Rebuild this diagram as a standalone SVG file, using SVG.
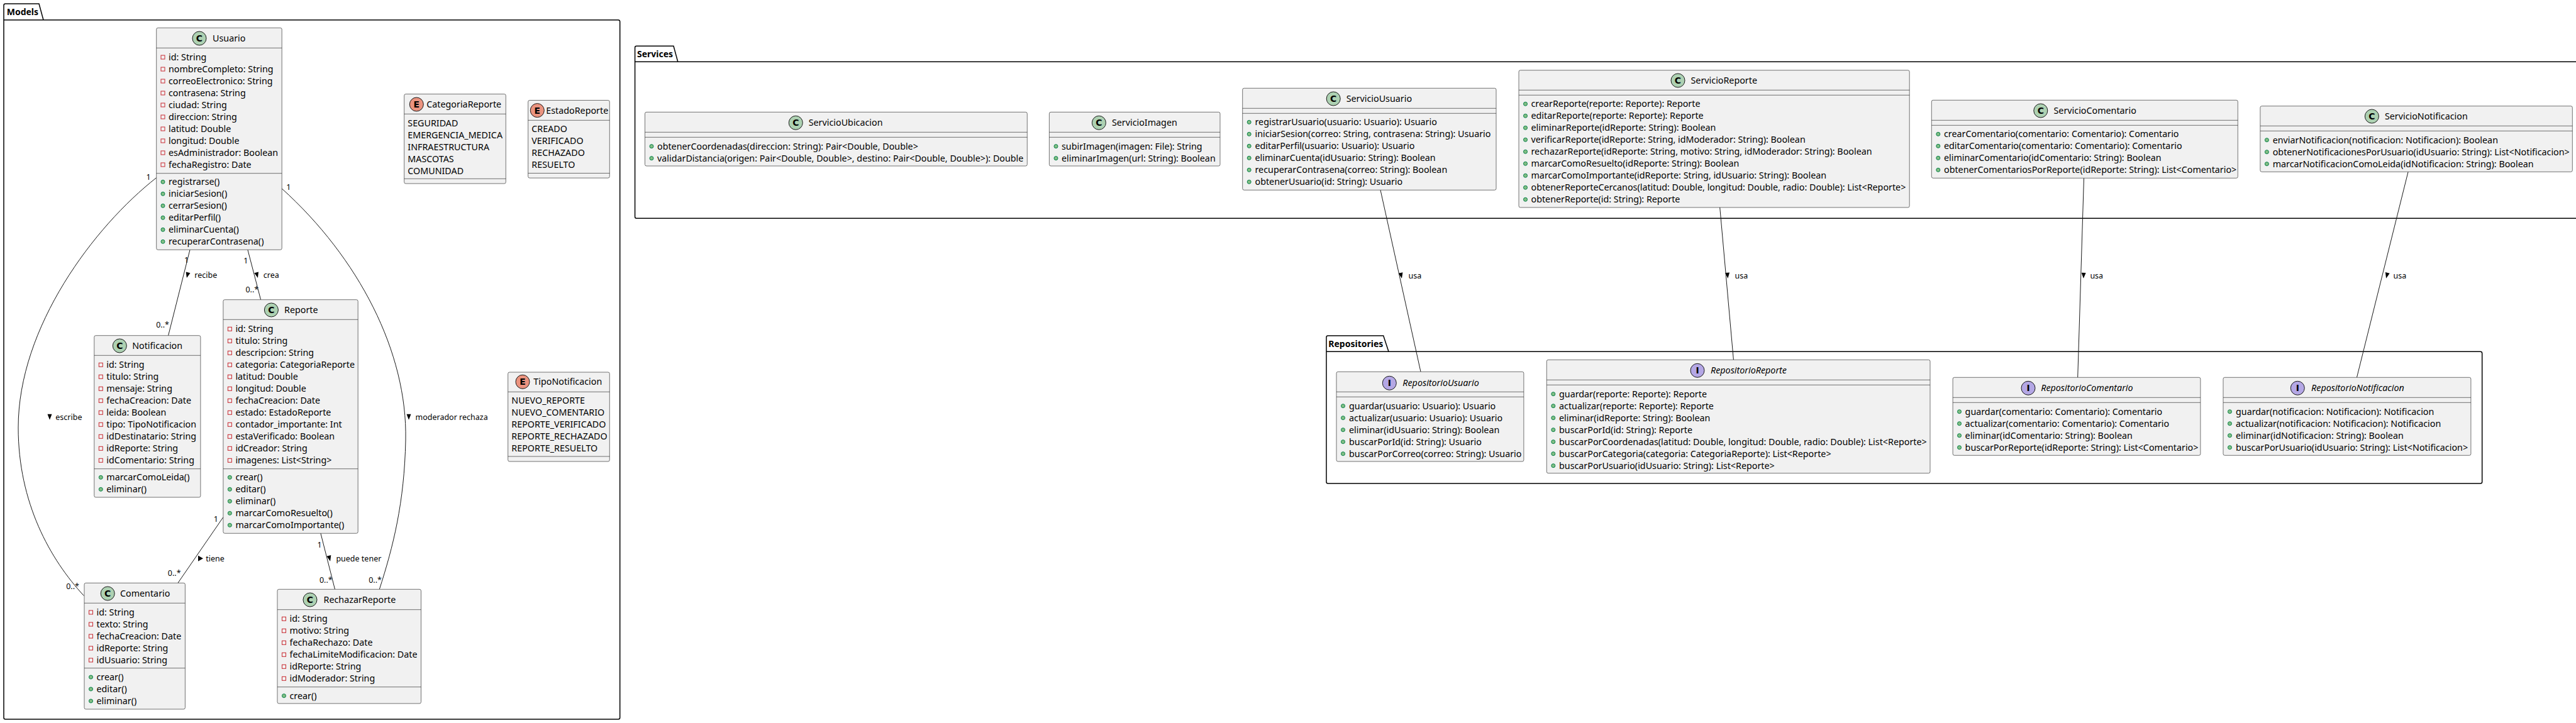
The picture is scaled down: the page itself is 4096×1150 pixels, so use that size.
<svg xmlns="http://www.w3.org/2000/svg" xmlns:xlink="http://www.w3.org/1999/xlink" width="4096" height="1150" viewBox="0 0 4096 1150">
<style>
.bg{fill:#FFFFFF}
.pkg{fill:none;stroke:#000000;stroke-width:1.5}
.pkgt{font-family:"Noto Sans","DejaVu Sans",sans-serif;font-size:14px;font-weight:bold;fill:#000}
.box{fill:#F1F1F1;stroke:#181818;stroke-width:0.6}
.sep{stroke:#181818;stroke-width:0.6;fill:none}
.t{font-family:"Noto Sans","DejaVu Sans",sans-serif;font-size:14.3px;fill:#000}
.ti{font-family:"Noto Sans","DejaVu Sans",sans-serif;font-size:14.3px;font-style:italic;fill:#000}
.lbl{font-family:"Noto Sans","DejaVu Sans",sans-serif;font-size:12.5px;fill:#000}
.mul{font-family:"Noto Sans","DejaVu Sans",sans-serif;font-size:12.5px;fill:#000;text-anchor:middle}
.cC{fill:#ADD1B2;stroke:#181818;stroke-width:1}
.cE{fill:#EB937F;stroke:#181818;stroke-width:1}
.cI{fill:#B4A7E5;stroke:#181818;stroke-width:1}
.let{font-family:"DejaVu Sans","Liberation Sans",sans-serif;font-size:14px;font-weight:bold;fill:#000;text-anchor:middle}
.pv{fill:none;stroke:#C82930;stroke-width:1}
.pb{fill:#84BE84;stroke:#038048;stroke-width:1}
.edge{fill:none;stroke:#181818;stroke-width:1}
.arr{fill:#000}
</style>
<defs>
<rect id="pv" class="pv" x="-3" y="-3" width="6" height="6"/>
<circle id="pb" class="pb" r="3"/>
<polygon id="ad" class="arr" points="-3.5,-4.5 3.5,-4.5 0,4.5"/>
</defs>
<rect class="bg" x="0" y="0" width="4096" height="1150"/>

<!-- Packages -->
<g id="pkg-models">
<path class="pkg" d="M8.5,6 H62 L69,31.7 H983 Q985.7,31.7 985.7,34.5 V1141.5 Q985.7,1144 983,1144 H8.5 Q6,1144 6,1141.5 V8.5 Q6,6 8.5,6 Z M6,31.7 H69"/>
<text class="pkgt" x="10.7" y="24">Models</text>
</g>
<g id="pkg-services">
<path class="pkg" d="M1009.6,98.3 V75.8 Q1009.6,73.3 1012,73.3 H1071 L1077.8,98.3 H4110"/>
<path class="pkg" d="M4110,347.3 H1012 Q1009.6,347.3 1009.6,344.8 V98.3 H1077.8"/>
<text class="pkgt" x="1013" y="90.5">Services</text>
</g>
<g id="pkg-repositories">
<path class="pkg" d="M2111.5,534 H2199.7 L2208,559.3 H3944 Q3946.7,559.3 3946.7,562 V766.5 Q3946.7,769 3944,769 H2111.5 Q2109,769 2109,766.5 V536.5 Q2109,534 2111.5,534 Z M2109,559.3 H2208"/>
<text class="pkgt" x="2112.3" y="551.5">Repositories</text>
</g>

<!-- Connectors -->
<g id="connectors">
<path class="edge" d="M248.7,282.7 C150,360 29,520 29,680 C29,800 80,890 133.3,947.5"/>
<path class="edge" d="M302,397.3 L267.6,533.7"/>
<path class="edge" d="M393.9,397.3 L414.6,476.7"/>
<path class="edge" d="M448.2,300 C570,410 648,560 645,700 C643,800 625,870 603.3,937.3"/>
<path class="edge" d="M354.9,822.7 L282.9,927.3"/>
<path class="edge" d="M509.9,848.3 L532.5,937.3"/>
<path class="edge" d="M2195,302.3 L2259,591.3"/>
<path class="edge" d="M2734.7,330 L2756.4,572.3"/>
<path class="edge" d="M3313.5,283.3 L3303.7,600.3"/>
<path class="edge" d="M3829.1,273.3 L3747.5,600.3"/>

<text class="mul" x="236.2" y="285.5">1</text>
<text class="mul" x="115.5" y="936.7">0..*</text>
<use href="#ad" x="79" y="663.2"/>
<text class="lbl" x="88.3" y="667.7">escribe</text>

<text class="mul" x="296.7" y="417.8">1</text>
<text class="mul" x="258.5" y="521.2">0..*</text>
<use href="#ad" transform="translate(298,437.7) rotate(14)"/>
<text class="lbl" x="309.3" y="442.2">recibe</text>

<text class="mul" x="390.8" y="418.8">1</text>
<text class="mul" x="400.8" y="464.8">0..*</text>
<use href="#ad" transform="translate(408.8,437.7) rotate(-14.6)"/>
<text class="lbl" x="418.8" y="442.2">crea</text>

<text class="mul" x="458.9" y="302.2">1</text>
<text class="mul" x="596.5" y="926.5">0..*</text>
<use href="#ad" x="650" y="663.3"/>
<text class="lbl" x="660.5" y="667.8">moderador rechaza</text>

<text class="mul" x="343.4" y="829.5">1</text>
<text class="mul" x="277.2" y="915.5">0..*</text>
<polygon class="arr" points="315,883.8 323,888.3 315,892.8"/>
<text class="lbl" x="327.3" y="892.8">tiene</text>

<text class="mul" x="508" y="871.2">1</text>
<text class="mul" x="518.3" y="926.5">0..*</text>
<use href="#ad" transform="translate(524,888.3) rotate(-14)"/>
<text class="lbl" x="534.4" y="892.8">puede tener</text>

<use href="#ad" transform="translate(2228,438.3) rotate(-12.5)"/>
<text class="lbl" x="2239.5" y="442.8">usa</text>
<use href="#ad" transform="translate(2747,438.3) rotate(-5)"/>
<text class="lbl" x="2758.5" y="442.8">usa</text>
<use href="#ad" transform="translate(3313,438.3) rotate(2)"/>
<text class="lbl" x="3323.4" y="442.8">usa</text>
<use href="#ad" transform="translate(3795.2,438.3) rotate(14)"/>
<text class="lbl" x="3805.5" y="442.8">usa</text>
</g>

<!-- Usuario -->
<g id="Usuario">
<rect class="box" x="248.7" y="44.3" width="199.5" height="353" rx="2.5"/>
<circle class="cC" cx="317" cy="61" r="11"/><text class="let" x="317" y="66">C</text>
<text class="t" x="338" y="66">Usuario</text>
<line class="sep" x1="248.7" y1="76.3" x2="448.2" y2="76.3"/>
<line class="sep" x1="248.7" y1="275.7" x2="448.2" y2="275.7"/>
<use href="#pv" x="259" y="91"/><text class="t" x="268" y="96">id: String</text>
<use href="#pv" x="259" y="110"/><text class="t" x="268" y="115">nombreCompleto: String</text>
<use href="#pv" x="259" y="129"/><text class="t" x="268" y="134">correoElectronico: String</text>
<use href="#pv" x="259" y="148"/><text class="t" x="268" y="153">contrasena: String</text>
<use href="#pv" x="259" y="167"/><text class="t" x="268" y="172">ciudad: String</text>
<use href="#pv" x="259" y="186"/><text class="t" x="268" y="191">direccion: String</text>
<use href="#pv" x="259" y="205"/><text class="t" x="268" y="210">latitud: Double</text>
<use href="#pv" x="259" y="224"/><text class="t" x="268" y="229">longitud: Double</text>
<use href="#pv" x="259" y="243"/><text class="t" x="268" y="248">esAdministrador: Boolean</text>
<use href="#pv" x="259" y="262"/><text class="t" x="268" y="267">fechaRegistro: Date</text>
<use href="#pb" x="259" y="289.3"/><text class="t" x="268" y="294.3">registrarse()</text>
<use href="#pb" x="259" y="308.3"/><text class="t" x="268" y="313.3">iniciarSesion()</text>
<use href="#pb" x="259" y="327.3"/><text class="t" x="268" y="332.3">cerrarSesion()</text>
<use href="#pb" x="259" y="346.3"/><text class="t" x="268" y="351.3">editarPerfil()</text>
<use href="#pb" x="259" y="365.3"/><text class="t" x="268" y="370.3">eliminarCuenta()</text>
<use href="#pb" x="259" y="384.3"/><text class="t" x="268" y="389.3">recuperarContrasena()</text>
</g>

<!-- Notificacion -->
<g id="Notificacion">
<rect class="box" x="149.8" y="533.7" width="169.1" height="257.3" rx="2.5"/>
<circle class="cC" cx="190.3" cy="550" r="11"/><text class="let" x="190.3" y="555">C</text>
<text class="t" x="210.2" y="555">Notificacion</text>
<line class="sep" x1="149.8" y1="565.3" x2="318.9" y2="565.3"/>
<line class="sep" x1="149.8" y1="745.7" x2="318.9" y2="745.7"/>
<use href="#pv" x="160.3" y="580.3"/><text class="t" x="169.3" y="585.3">id: String</text>
<use href="#pv" x="160.3" y="599.3"/><text class="t" x="169.3" y="604.3">titulo: String</text>
<use href="#pv" x="160.3" y="618.3"/><text class="t" x="169.3" y="623.3">mensaje: String</text>
<use href="#pv" x="160.3" y="637.3"/><text class="t" x="169.3" y="642.3">fechaCreacion: Date</text>
<use href="#pv" x="160.3" y="656.3"/><text class="t" x="169.3" y="661.3">leida: Boolean</text>
<use href="#pv" x="160.3" y="675.3"/><text class="t" x="169.3" y="680.3">tipo: TipoNotificacion</text>
<use href="#pv" x="160.3" y="694.3"/><text class="t" x="169.3" y="699.3">idDestinatario: String</text>
<use href="#pv" x="160.3" y="713.3"/><text class="t" x="169.3" y="718.3">idReporte: String</text>
<use href="#pv" x="160.3" y="732.3"/><text class="t" x="169.3" y="737.3">idComentario: String</text>
<use href="#pb" x="160.3" y="759.3"/><text class="t" x="169.3" y="764.3">marcarComoLeida()</text>
<use href="#pb" x="160.3" y="778.3"/><text class="t" x="169.3" y="783.3">eliminar()</text>
</g>

<!-- Reporte -->
<g id="Reporte">
<rect class="box" x="354.9" y="476.7" width="214.3" height="371.6" rx="2.5"/>
<circle class="cC" cx="431.4" cy="493" r="11"/><text class="let" x="431.4" y="498">C</text>
<text class="t" x="452" y="498">Reporte</text>
<line class="sep" x1="354.9" y1="508.3" x2="569.2" y2="508.3"/>
<line class="sep" x1="354.9" y1="745.7" x2="569.2" y2="745.7"/>
<use href="#pv" x="365.4" y="523.3"/><text class="t" x="374.4" y="528.3">id: String</text>
<use href="#pv" x="365.4" y="542.3"/><text class="t" x="374.4" y="547.3">titulo: String</text>
<use href="#pv" x="365.4" y="561.3"/><text class="t" x="374.4" y="566.3">descripcion: String</text>
<use href="#pv" x="365.4" y="580.3"/><text class="t" x="374.4" y="585.3">categoria: CategoriaReporte</text>
<use href="#pv" x="365.4" y="599.3"/><text class="t" x="374.4" y="604.3">latitud: Double</text>
<use href="#pv" x="365.4" y="618.3"/><text class="t" x="374.4" y="623.3">longitud: Double</text>
<use href="#pv" x="365.4" y="637.3"/><text class="t" x="374.4" y="642.3">fechaCreacion: Date</text>
<use href="#pv" x="365.4" y="656.3"/><text class="t" x="374.4" y="661.3">estado: EstadoReporte</text>
<use href="#pv" x="365.4" y="675.3"/><text class="t" x="374.4" y="680.3">contador_importante: Int</text>
<use href="#pv" x="365.4" y="694.3"/><text class="t" x="374.4" y="699.3">estaVerificado: Boolean</text>
<use href="#pv" x="365.4" y="713.3"/><text class="t" x="374.4" y="718.3">idCreador: String</text>
<use href="#pv" x="365.4" y="732.3"/><text class="t" x="374.4" y="737.3">imagenes: List&lt;String&gt;</text>
<use href="#pb" x="365.4" y="759.3"/><text class="t" x="374.4" y="764.3">crear()</text>
<use href="#pb" x="365.4" y="778.3"/><text class="t" x="374.4" y="783.3">editar()</text>
<use href="#pb" x="365.4" y="797.3"/><text class="t" x="374.4" y="802.3">eliminar()</text>
<use href="#pb" x="365.4" y="816.3"/><text class="t" x="374.4" y="821.3">marcarComoResuelto()</text>
<use href="#pb" x="365.4" y="835.3"/><text class="t" x="374.4" y="840.3">marcarComoImportante()</text>
</g>

<!-- Comentario -->
<g id="Comentario">
<rect class="box" x="134" y="927.3" width="160.4" height="200.7" rx="2.5"/>
<circle class="cC" cx="171.2" cy="944" r="11"/><text class="let" x="171.2" y="949">C</text>
<text class="t" x="191" y="949">Comentario</text>
<line class="sep" x1="134" y1="959.3" x2="294.4" y2="959.3"/>
<line class="sep" x1="134" y1="1062.7" x2="294.4" y2="1062.7"/>
<use href="#pv" x="144.5" y="974"/><text class="t" x="153.5" y="979">id: String</text>
<use href="#pv" x="144.5" y="993"/><text class="t" x="153.5" y="998">texto: String</text>
<use href="#pv" x="144.5" y="1012"/><text class="t" x="153.5" y="1017">fechaCreacion: Date</text>
<use href="#pv" x="144.5" y="1031"/><text class="t" x="153.5" y="1036">idReporte: String</text>
<use href="#pv" x="144.5" y="1050"/><text class="t" x="153.5" y="1055">idUsuario: String</text>
<use href="#pb" x="144.5" y="1077"/><text class="t" x="153.5" y="1082">crear()</text>
<use href="#pb" x="144.5" y="1096"/><text class="t" x="153.5" y="1101">editar()</text>
<use href="#pb" x="144.5" y="1115"/><text class="t" x="153.5" y="1120">eliminar()</text>
</g>

<!-- RechazarReporte -->
<g id="RechazarReporte">
<rect class="box" x="441" y="937.3" width="228.5" height="181.7" rx="2.5"/>
<circle class="cC" cx="493" cy="954" r="11"/><text class="let" x="493" y="959">C</text>
<text class="t" x="514.5" y="959">RechazarReporte</text>
<line class="sep" x1="441" y1="969.7" x2="669.5" y2="969.7"/>
<line class="sep" x1="441" y1="1092.7" x2="669.5" y2="1092.7"/>
<use href="#pv" x="451.5" y="984.3"/><text class="t" x="460.5" y="989.3">id: String</text>
<use href="#pv" x="451.5" y="1003.3"/><text class="t" x="460.5" y="1008.3">motivo: String</text>
<use href="#pv" x="451.5" y="1022.3"/><text class="t" x="460.5" y="1027.3">fechaRechazo: Date</text>
<use href="#pv" x="451.5" y="1041.3"/><text class="t" x="460.5" y="1046.3">fechaLimiteModificacion: Date</text>
<use href="#pv" x="451.5" y="1060.3"/><text class="t" x="460.5" y="1065.3">idReporte: String</text>
<use href="#pv" x="451.5" y="1079.3"/><text class="t" x="460.5" y="1084.3">idModerador: String</text>
<use href="#pb" x="451.5" y="1106.7"/><text class="t" x="460.5" y="1111.7">crear()</text>
</g>

<!-- Enums -->
<g id="CategoriaReporte">
<rect class="box" x="642.7" y="149.6" width="161.6" height="142.4" rx="2.5"/>
<circle class="cE" cx="662.3" cy="166" r="11"/><text class="let" x="662.3" y="171">E</text>
<text class="t" x="678.3" y="171">CategoriaReporte</text>
<line class="sep" x1="642.7" y1="181.3" x2="804.3" y2="181.3"/>
<line class="sep" x1="642.7" y1="284.3" x2="804.3" y2="284.3"/>
<text class="t" x="648.3" y="200.9">SEGURIDAD</text>
<text class="t" x="648.3" y="219.9">EMERGENCIA_MEDICA</text>
<text class="t" x="648.3" y="238.9">INFRAESTRUCTURA</text>
<text class="t" x="648.3" y="257.9">MASCOTAS</text>
<text class="t" x="648.3" y="276.9">COMUNIDAD</text>
</g>
<g id="EstadoReporte">
<rect class="box" x="839.7" y="159.5" width="129.6" height="123.6" rx="2.5"/>
<circle class="cE" cx="854.3" cy="175.6" r="11"/><text class="let" x="854.3" y="180.6">E</text>
<text class="t" x="868.3" y="180.6">EstadoReporte</text>
<line class="sep" x1="839.7" y1="191.3" x2="969.3" y2="191.3"/>
<line class="sep" x1="839.7" y1="275.5" x2="969.3" y2="275.5"/>
<text class="t" x="845.3" y="209.7">CREADO</text>
<text class="t" x="845.3" y="228.7">VERIFICADO</text>
<text class="t" x="845.3" y="247.7">RECHAZADO</text>
<text class="t" x="845.3" y="266.7">RESUELTO</text>
</g>
<g id="TipoNotificacion">
<rect class="box" x="807.7" y="592" width="161.6" height="142" rx="2.5"/>
<circle class="cE" cx="831" cy="607.3" r="11"/><text class="let" x="831" y="612.3">E</text>
<text class="t" x="848.3" y="612.3">TipoNotificacion</text>
<line class="sep" x1="807.7" y1="623.3" x2="969.3" y2="623.3"/>
<line class="sep" x1="807.7" y1="726" x2="969.3" y2="726"/>
<text class="t" x="813.3" y="642.1">NUEVO_REPORTE</text>
<text class="t" x="813.3" y="661.1">NUEVO_COMENTARIO</text>
<text class="t" x="813.3" y="680.1">REPORTE_VERIFICADO</text>
<text class="t" x="813.3" y="699.1">REPORTE_RECHAZADO</text>
<text class="t" x="813.3" y="718.1">REPORTE_RESUELTO</text>
</g>

<!-- Services -->
<g id="ServicioUbicacion">
<rect class="box" x="1025.5" y="178.3" width="607.8" height="85.7" rx="2.5"/>
<circle class="cC" cx="1265.3" cy="195.3" r="11"/><text class="let" x="1265.3" y="200.3">C</text>
<text class="t" x="1285.7" y="200.3">ServicioUbicacion</text>
<line class="sep" x1="1025.5" y1="210.3" x2="1633.3" y2="210.3"/>
<line class="sep" x1="1025.5" y1="218.3" x2="1633.3" y2="218.3"/>
<use href="#pb" x="1036" y="232.7"/><text class="t" x="1045" y="237.7">obtenerCoordenadas(direccion: String): Pair&lt;Double, Double&gt;</text>
<use href="#pb" x="1036" y="251.7"/><text class="t" x="1045" y="256.7">validarDistancia(origen: Pair&lt;Double, Double&gt;, destino: Pair&lt;Double, Double&gt;): Double</text>
</g>
<g id="ServicioImagen">
<rect class="box" x="1668.4" y="178.3" width="271.6" height="85.7" rx="2.5"/>
<circle class="cC" cx="1747.4" cy="195.3" r="11"/><text class="let" x="1747.4" y="200.3">C</text>
<text class="t" x="1767.9" y="200.3">ServicioImagen</text>
<line class="sep" x1="1668.4" y1="210.3" x2="1940" y2="210.3"/>
<line class="sep" x1="1668.4" y1="218.3" x2="1940" y2="218.3"/>
<use href="#pb" x="1679" y="232.7"/><text class="t" x="1688" y="237.7">subirImagen(imagen: File): String</text>
<use href="#pb" x="1679" y="251.7"/><text class="t" x="1688" y="256.7">eliminarImagen(url: String): Boolean</text>
</g>
<g id="ServicioUsuario">
<rect class="box" x="1975.7" y="140.3" width="403.3" height="162" rx="2.5"/>
<circle class="cC" cx="2120.2" cy="157" r="11"/><text class="let" x="2120.2" y="162">C</text>
<text class="t" x="2140.7" y="162">ServicioUsuario</text>
<line class="sep" x1="1975.7" y1="172.3" x2="2379" y2="172.3"/>
<line class="sep" x1="1975.7" y1="180.3" x2="2379" y2="180.3"/>
<use href="#pb" x="1986.2" y="194.3"/><text class="t" x="1995.5" y="199.3">registrarUsuario(usuario: Usuario): Usuario</text>
<use href="#pb" x="1986.2" y="213.3"/><text class="t" x="1995.5" y="218.3">iniciarSesion(correo: String, contrasena: String): Usuario</text>
<use href="#pb" x="1986.2" y="232.3"/><text class="t" x="1995.5" y="237.3">editarPerfil(usuario: Usuario): Usuario</text>
<use href="#pb" x="1986.2" y="251.3"/><text class="t" x="1995.5" y="256.3">eliminarCuenta(idUsuario: String): Boolean</text>
<use href="#pb" x="1986.2" y="270.3"/><text class="t" x="1995.5" y="275.3">recuperarContrasena(correo: String): Boolean</text>
<use href="#pb" x="1986.2" y="289.3"/><text class="t" x="1995.5" y="294.3">obtenerUsuario(id: String): Usuario</text>
</g>
<g id="ServicioReporte">
<rect class="box" x="2415" y="111.7" width="621.2" height="218.3" rx="2.5"/>
<circle class="cC" cx="2668" cy="128" r="11"/><text class="let" x="2668" y="133">C</text>
<text class="t" x="2688.5" y="133">ServicioReporte</text>
<line class="sep" x1="2415" y1="143.3" x2="3036.2" y2="143.3"/>
<line class="sep" x1="2415" y1="151.3" x2="3036.2" y2="151.3"/>
<use href="#pb" x="2425.5" y="165.3"/><text class="t" x="2434.5" y="170.3">crearReporte(reporte: Reporte): Reporte</text>
<use href="#pb" x="2425.5" y="184.3"/><text class="t" x="2434.5" y="189.3">editarReporte(reporte: Reporte): Reporte</text>
<use href="#pb" x="2425.5" y="203.3"/><text class="t" x="2434.5" y="208.3">eliminarReporte(idReporte: String): Boolean</text>
<use href="#pb" x="2425.5" y="222.3"/><text class="t" x="2434.5" y="227.3">verificarReporte(idReporte: String, idModerador: String): Boolean</text>
<use href="#pb" x="2425.5" y="241.3"/><text class="t" x="2434.5" y="246.3">rechazarReporte(idReporte: String, motivo: String, idModerador: String): Boolean</text>
<use href="#pb" x="2425.5" y="260.3"/><text class="t" x="2434.5" y="265.3">marcarComoResuelto(idReporte: String): Boolean</text>
<use href="#pb" x="2425.5" y="279.3"/><text class="t" x="2434.5" y="284.3">marcarComoImportante(idReporte: String, idUsuario: String): Boolean</text>
<use href="#pb" x="2425.5" y="298.3"/><text class="t" x="2434.5" y="303.3">obtenerReporteCercanos(latitud: Double, longitud: Double, radio: Double): List&lt;Reporte&gt;</text>
<use href="#pb" x="2425.5" y="317.3"/><text class="t" x="2434.5" y="322.3">obtenerReporte(id: String): Reporte</text>
</g>
<g id="ServicioComentario">
<rect class="box" x="3071.3" y="159.3" width="487" height="124" rx="2.5"/>
<circle class="cC" cx="3244.8" cy="176" r="11"/><text class="let" x="3244.8" y="181">C</text>
<text class="t" x="3265.5" y="181">ServicioComentario</text>
<line class="sep" x1="3071.3" y1="191.3" x2="3558.3" y2="191.3"/>
<line class="sep" x1="3071.3" y1="199.3" x2="3558.3" y2="199.3"/>
<use href="#pb" x="3081.8" y="213.3"/><text class="t" x="3091" y="218.3">crearComentario(comentario: Comentario): Comentario</text>
<use href="#pb" x="3081.8" y="232.3"/><text class="t" x="3091" y="237.3">editarComentario(comentario: Comentario): Comentario</text>
<use href="#pb" x="3081.8" y="251.3"/><text class="t" x="3091" y="256.3">eliminarComentario(idComentario: String): Boolean</text>
<use href="#pb" x="3081.8" y="270.3"/><text class="t" x="3091" y="275.3">obtenerComentariosPorReporte(idReporte: String): List&lt;Comentario&gt;</text>
</g>
<g id="ServicioNotificacion">
<rect class="box" x="3593.9" y="168.7" width="496.4" height="104.6" rx="2.5"/>
<circle class="cC" cx="3771.4" cy="185" r="11"/><text class="let" x="3771.4" y="190">C</text>
<text class="t" x="3791.9" y="190">ServicioNotificacion</text>
<line class="sep" x1="3593.9" y1="200.3" x2="4090.3" y2="200.3"/>
<line class="sep" x1="3593.9" y1="208.3" x2="4090.3" y2="208.3"/>
<use href="#pb" x="3604.4" y="222.7"/><text class="t" x="3613.7" y="227.7">enviarNotificacion(notificacion: Notificacion): Boolean</text>
<use href="#pb" x="3604.4" y="241.7"/><text class="t" x="3613.7" y="246.7">obtenerNotificacionesPorUsuario(idUsuario: String): List&lt;Notificacion&gt;</text>
<use href="#pb" x="3604.4" y="260.7"/><text class="t" x="3613.7" y="265.7">marcarNotificacionComoLeida(idNotificacion: String): Boolean</text>
</g>

<!-- Repositories -->
<g id="RepositorioUsuario">
<rect class="box" x="2125" y="591.3" width="297.9" height="142.7" rx="2.5"/>
<circle class="cI" cx="2209.3" cy="609.3" r="11"/><text class="let" x="2209.3" y="614.3">I</text>
<text class="ti" x="2230.3" y="614.3">RepositorioUsuario</text>
<line class="sep" x1="2125" y1="623.3" x2="2422.9" y2="623.3"/>
<line class="sep" x1="2125" y1="631.3" x2="2422.9" y2="631.3"/>
<use href="#pb" x="2135.5" y="645.7"/><text class="t" x="2145" y="650.7">guardar(usuario: Usuario): Usuario</text>
<use href="#pb" x="2135.5" y="664.7"/><text class="t" x="2145" y="669.7">actualizar(usuario: Usuario): Usuario</text>
<use href="#pb" x="2135.5" y="683.7"/><text class="t" x="2145" y="688.7">eliminar(idUsuario: String): Boolean</text>
<use href="#pb" x="2135.5" y="702.7"/><text class="t" x="2145" y="707.7">buscarPorId(id: String): Usuario</text>
<use href="#pb" x="2135.5" y="721.7"/><text class="t" x="2145" y="726.7">buscarPorCorreo(correo: String): Usuario</text>
</g>
<g id="RepositorioReporte">
<rect class="box" x="2459.3" y="572.3" width="609.7" height="180.4" rx="2.5"/>
<circle class="cI" cx="2699" cy="589.3" r="11"/><text class="let" x="2699" y="594.3">I</text>
<text class="ti" x="2720" y="594.3">RepositorioReporte</text>
<line class="sep" x1="2459.3" y1="604.3" x2="3069" y2="604.3"/>
<line class="sep" x1="2459.3" y1="612.3" x2="3069" y2="612.3"/>
<use href="#pb" x="2469.8" y="626.7"/><text class="t" x="2479" y="631.7">guardar(reporte: Reporte): Reporte</text>
<use href="#pb" x="2469.8" y="645.7"/><text class="t" x="2479" y="650.7">actualizar(reporte: Reporte): Reporte</text>
<use href="#pb" x="2469.8" y="664.7"/><text class="t" x="2479" y="669.7">eliminar(idReporte: String): Boolean</text>
<use href="#pb" x="2469.8" y="683.7"/><text class="t" x="2479" y="688.7">buscarPorId(id: String): Reporte</text>
<use href="#pb" x="2469.8" y="702.7"/><text class="t" x="2479" y="707.7">buscarPorCoordenadas(latitud: Double, longitud: Double, radio: Double): List&lt;Reporte&gt;</text>
<use href="#pb" x="2469.8" y="721.7"/><text class="t" x="2479" y="726.7">buscarPorCategoria(categoria: CategoriaReporte): List&lt;Reporte&gt;</text>
<use href="#pb" x="2469.8" y="740.7"/><text class="t" x="2479" y="745.7">buscarPorUsuario(idUsuario: String): List&lt;Reporte&gt;</text>
</g>
<g id="RepositorioComentario">
<rect class="box" x="3105.1" y="600.3" width="393.8" height="124" rx="2.5"/>
<circle class="cI" cx="3225" cy="617.3" r="11"/><text class="let" x="3225" y="622.3">I</text>
<text class="ti" x="3245.2" y="622.3">RepositorioComentario</text>
<line class="sep" x1="3105.1" y1="632.3" x2="3498.9" y2="632.3"/>
<line class="sep" x1="3105.1" y1="640.3" x2="3498.9" y2="640.3"/>
<use href="#pb" x="3115.5" y="654.7"/><text class="t" x="3124.6" y="659.7">guardar(comentario: Comentario): Comentario</text>
<use href="#pb" x="3115.5" y="673.7"/><text class="t" x="3124.6" y="678.7">actualizar(comentario: Comentario): Comentario</text>
<use href="#pb" x="3115.5" y="692.7"/><text class="t" x="3124.6" y="697.7">eliminar(idComentario: String): Boolean</text>
<use href="#pb" x="3115.5" y="711.7"/><text class="t" x="3124.6" y="716.7">buscarPorReporte(idReporte: String): List&lt;Comentario&gt;</text>
</g>
<g id="RepositorioNotificacion">
<rect class="box" x="3535" y="600.3" width="393.9" height="124" rx="2.5"/>
<circle class="cI" cx="3653.3" cy="617.3" r="11"/><text class="let" x="3653.3" y="622.3">I</text>
<text class="ti" x="3675.1" y="622.3">RepositorioNotificacion</text>
<line class="sep" x1="3535" y1="632.3" x2="3928.9" y2="632.3"/>
<line class="sep" x1="3535" y1="640.3" x2="3928.9" y2="640.3"/>
<use href="#pb" x="3545.5" y="654.7"/><text class="t" x="3555" y="659.7">guardar(notificacion: Notificacion): Notificacion</text>
<use href="#pb" x="3545.5" y="673.7"/><text class="t" x="3555" y="678.7">actualizar(notificacion: Notificacion): Notificacion</text>
<use href="#pb" x="3545.5" y="692.7"/><text class="t" x="3555" y="697.7">eliminar(idNotificacion: String): Boolean</text>
<use href="#pb" x="3545.5" y="711.7"/><text class="t" x="3555" y="716.7">buscarPorUsuario(idUsuario: String): List&lt;Notificacion&gt;</text>
</g>
</svg>
